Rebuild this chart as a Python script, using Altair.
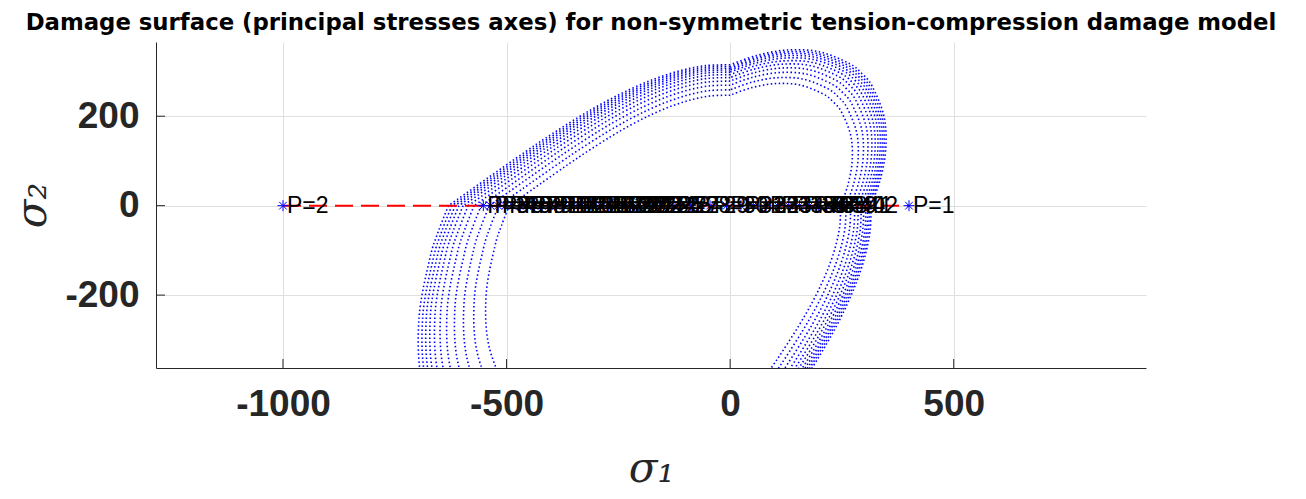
import altair as alt
import pandas as pd

TITLE = "Damage surface (principal stresses axes) for non-symmetric tension-compression damage model"

# Outer damage surface, split at its kinks (sigma1, sigma2)
piece0_s1 = [315.0, 335.9, 348.0, 344.3, 317.8, 295.0, 266.7, 198.8, 126.6, 59.2, 0.0]
piece0_s2 = [0.0, 59.2, 126.6, 198.8, 266.7, 295.0, 317.8, 344.3, 348.0, 335.9, 315.0]
piece1_s1 = [0.0, -55.2, -110.0, -164.6, -219.8, -277.8, -340.9, -413.6, -455.7, -503.8, -560.4, -630.0]
piece1_s2 = [315.0, 313.1, 302.3, 285.0, 262.0, 233.1, 196.8, 150.5, 122.1, 88.8, 49.0, 0.0]
piece2_s1 = [-630.0, -652.4, -671.7, -696.0, -688.7, -635.6, -590.0, -533.3, -397.6, -253.3, -118.4, -57.1, 0.0]
piece2_s2 = [0.0, -57.1, -118.4, -253.3, -397.6, -533.3, -590.0, -635.6, -688.7, -696.0, -671.7, -652.4, -630.0]
piece3_s1 = [0.0, 49.0, 88.8, 122.1, 150.5, 196.8, 233.1, 262.0, 285.0, 302.3, 313.1, 315.0]
piece3_s2 = [-630.0, -560.4, -503.8, -455.7, -413.6, -340.9, -277.8, -219.8, -164.6, -110.0, -55.2, 0.0]

# relative size of each plotted damage surface (inner -> outer)
ring_scale = [0.784, 0.822, 0.855, 0.884, 0.909, 0.930, 0.948, 0.963, 0.976, 0.988, 1.0]

# load points
load_s1 = [400, -1000]
load_labels = ["P=1", "P=2"]
mid_s1 = [-552, -536, -519, -503, -487, -470, -455, -438, -421, -405, -389, -372, -356,
          -340, -323, -306, -290, -273, -257, -240, -223, -206, -189, -172, -154, -128,
          -88, -45, -8, 24, 52, 80, 106, 131, 155, 177, 198, 216, 232, 245]
mid_labels = ["P=%d" % (k + 3) for k in range(len(mid_s1))]

path_s1 = [-1000, 400]
path_s2 = [0, 0]

x_ticks = [-1000, -500, 0, 500]
y_ticks = [-200, 0, 200]
x_domain = [-1284, 930]
y_domain = [-363, 366]

W, H = 990, 326

pieces = [(piece0_s1, piece0_s2), (piece1_s1, piece1_s2),
          (piece2_s1, piece2_s2), (piece3_s1, piece3_s2)]
rows = []
for ri, sc in enumerate(ring_scale):
    for pi, (px, py) in enumerate(pieces):
        for vi, (a, b) in enumerate(zip(px, py)):
            rows.append({"s1": a * sc, "s2": b * sc, "seg": f"{ri}-{pi}", "i": vi})
rings = pd.DataFrame(rows)

pts = pd.DataFrame({"s1": load_s1 + mid_s1,
                    "s2": [0] * (len(load_s1) + len(mid_s1)),
                    "lab": load_labels + mid_labels})
path = pd.DataFrame({"s1": path_s1, "s2": path_s2, "i": [0, 1]})
xt = pd.DataFrame({"s1": x_ticks})
yt = pd.DataFrame({"s2": y_ticks})

xscale = alt.Scale(domain=x_domain, nice=False, zero=False)
yscale = alt.Scale(domain=y_domain, nice=False, zero=False)

axis_common = dict(grid=True, gridColor="#dfdfdf", gridWidth=1, ticks=False,
                   domainColor="#262626", domainWidth=1,
                   labelExpr="datum.value",
                   labelFont="Liberation Sans", labelFontWeight="bold",
                   labelFontSize=37, labelColor="#262626",
                   titleFont="DejaVu Serif", titleFontStyle="italic",
                   titleFontWeight="normal", titleFontSize=42, titleColor="#262626")

xaxis = alt.Axis(values=x_ticks, title="σ₁", labelPadding=18, titlePadding=26, **axis_common)
yaxis = alt.Axis(values=y_ticks, title="σ₂", labelPadding=17, titlePadding=10, **axis_common)

ring_layer = alt.Chart(rings).mark_line(
    interpolate="cardinal", strokeDash=[1.5, 2.5], strokeWidth=1.6,
    color="#0000ff", clip=True
).encode(
    x=alt.X("s1:Q", scale=xscale, axis=xaxis),
    y=alt.Y("s2:Q", scale=yscale, axis=yaxis),
    detail="seg:N",
    order="i:Q",
)

path_layer = alt.Chart(path).mark_line(
    color="#ff0000", strokeDash=[18, 8], strokeWidth=2, clip=True
).encode(x="s1:Q", y="s2:Q", order="i:Q")

ASTER = "M-1,0L1,0M0,-1L0,1M-0.7,-0.7L0.7,0.7M-0.7,0.7L0.7,-0.7"
star_layer = alt.Chart(pts).mark_point(
    shape=ASTER, size=120, filled=False, color="#0000ff", strokeWidth=1, opacity=1
).encode(x="s1:Q", y="s2:Q")

text_layer = alt.Chart(pts).mark_text(
    align="left", baseline="middle", dx=4, font="Liberation Sans",
    fontSize=23, color="#000000"
).encode(x="s1:Q", y="s2:Q", text="lab:N")

xtick_layer = alt.Chart(xt).mark_rule(color="#262626", strokeWidth=1).encode(
    x="s1:Q", y=alt.value(H), y2=alt.value(H - 9))
ytick_layer = alt.Chart(yt).mark_rule(color="#262626", strokeWidth=1).encode(
    y="s2:Q", x=alt.value(0), x2=alt.value(9))

chart = alt.layer(
    ring_layer, path_layer, star_layer, text_layer, xtick_layer, ytick_layer
).properties(
    width=W, height=H,
    title=alt.TitleParams(TITLE, font="DejaVu Sans", fontSize=22.8,
                          fontWeight="bold", color="#000000", anchor="middle", offset=7),
    autosize=alt.AutoSizeParams(type="none"),
    padding={"left": 148, "top": 34, "right": 150, "bottom": 122},
).configure_view(stroke=None)

chart.save("out.html", embed_options={"renderer": "svg", "actions": False})
